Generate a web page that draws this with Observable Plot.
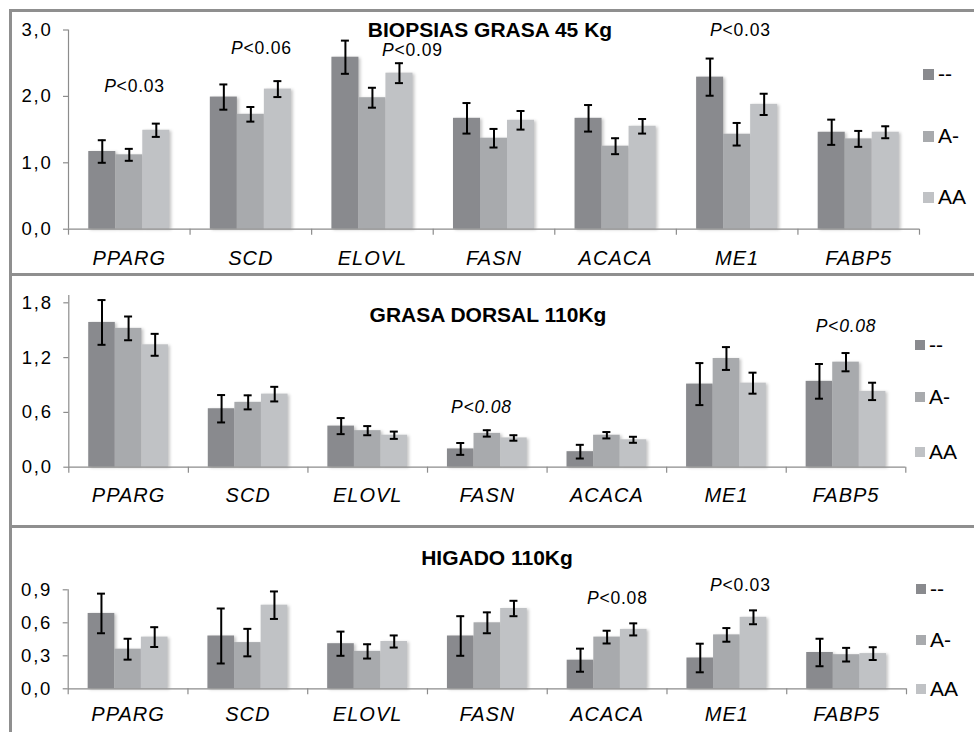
<!DOCTYPE html>
<html>
<head>
<meta charset="utf-8">
<script src="https://cdn.jsdelivr.net/npm/d3@7"></script>
<script src="https://cdn.jsdelivr.net/npm/@observablehq/plot@0.6"></script>
<style>
  body { margin: 0; background: #fff; font-family: "Liberation Sans", Arial, sans-serif; }
  #root { position: relative; width: 974px; height: 732px; overflow: hidden; background: #fff; }
  .panel { position: absolute; left: 0; }
  .panel svg { overflow: visible; }
  .hline { position: absolute; left: 9px; right: 0; height: 3px; background: #8f8f8f; }
  .vline { position: absolute; left: 9px; top: 9px; bottom: 0; width: 3px; background: #8f8f8f; }
  .title { position: absolute; font-weight: bold; font-size: 21px; line-height: 18px; transform: translateX(-50%); white-space: nowrap; color: #000; }
  .legitem { position: absolute; display: flex; align-items: center; height: 24px; font-size: 21px; color: #000; white-space: nowrap; }
  .sw { display: inline-block; margin-right: 4px; }
</style>
</head>
<body>
<div id="root"></div>
<script>
// ---------- data ----------
const genes = ["PPARG", "SCD", "ELOVL", "FASN", "ACACA", "ME1", "FABP5"];
const genotypes = ["--", "A-", "AA"];
const barColors = ["#898a8e", "#a8aaad", "#c0c2c5"];

// Panel 1: BIOPSIAS GRASA 45 Kg
const title1 = "BIOPSIAS GRASA 45 Kg";
const yTicks1 = [0, 1, 2, 3];
const mean1_mm = [1.17, 1.99, 2.59, 1.67, 1.67, 2.29, 1.46];
const mean1_am = [1.12, 1.73, 1.98, 1.37, 1.25, 1.43, 1.36];
const mean1_aa = [1.49, 2.11, 2.35, 1.64, 1.55, 1.88, 1.46];
const err1_mm = [0.17, 0.19, 0.25, 0.23, 0.20, 0.28, 0.19];
const err1_am = [0.09, 0.11, 0.15, 0.14, 0.12, 0.17, 0.12];
const err1_aa = [0.10, 0.12, 0.15, 0.14, 0.11, 0.16, 0.09];
const pText1 = ["P<0.03", "P<0.06", "P<0.09", "P<0.03"];
const pX1 = [0.543, 1.587, 2.829, 5.526];
const pY1 = [2.15, 2.72, 2.69, 2.99];

// Panel 2: GRASA DORSAL 110Kg
const title2 = "GRASA DORSAL 110Kg";
const yTicks2 = [0, 0.6, 1.2, 1.8];
const mean2_mm = [1.585, 0.64, 0.45, 0.20, 0.17, 0.91, 0.94];
const mean2_am = [1.52, 0.71, 0.40, 0.37, 0.35, 1.19, 1.15];
const mean2_aa = [1.34, 0.80, 0.35, 0.32, 0.30, 0.92, 0.83];
const err2_mm = [0.245, 0.15, 0.088, 0.065, 0.075, 0.23, 0.19];
const err2_am = [0.13, 0.077, 0.05, 0.035, 0.035, 0.125, 0.10];
const err2_aa = [0.12, 0.08, 0.04, 0.03, 0.033, 0.115, 0.095];
const pText2 = ["P<0.08", "P<0.08"];
const pX2 = [3.45, 6.5];
const pY2 = [0.66, 1.547];

// Panel 3: HIGADO 110Kg
const title3 = "HIGADO 110Kg";
const yTicks3 = [0, 0.3, 0.6, 0.9];
const mean3_mm = [0.685, 0.48, 0.41, 0.48, 0.26, 0.28, 0.33];
const mean3_am = [0.36, 0.42, 0.34, 0.60, 0.47, 0.49, 0.31];
const mean3_aa = [0.47, 0.76, 0.43, 0.73, 0.54, 0.65, 0.32];
const err3_mm = [0.18, 0.25, 0.11, 0.18, 0.105, 0.13, 0.125];
const err3_am = [0.095, 0.125, 0.065, 0.095, 0.058, 0.062, 0.062];
const err3_aa = [0.09, 0.125, 0.055, 0.07, 0.055, 0.063, 0.058];
const pText3 = ["P<0.08", "P<0.03"];
const pX3 = [4.585, 5.612];
const pY3 = [0.821, 0.944];

// ---------- drawing ----------
const GAP = 0.75;       // Excel gap width 150% -> half on each side (in bar units)
const SLOTS = 3 + 2 * GAP;
const FONT = "'Liberation Sans', Arial, sans-serif";
const root = document.getElementById("root");

function buildRows(means, errs) {
  const rows = [];
  genotypes.forEach((g, k) => genes.forEach((gene, i) => {
    rows.push({gene, i, k, genotype: g, mean: means[k][i], err: errs[k][i]});
  }));
  return rows;
}

function makePanel(cfg) {
  const rows = buildRows(cfg.means, cfg.errs);
  const center = d => d.i + (GAP + d.k + 0.5) / SLOTS;
  const annots = cfg.pText.map((t, j) => ({t, x: cfg.pX[j], y: cfg.pY[j]}));
  const fmt = d => d3.format(".1f")(d).replace(".", ",");
  const axisColor = "#8c8c8c";
  const svg = Plot.plot({
    width: 974,
    height: cfg.height,
    marginTop: cfg.mt, marginBottom: cfg.mb, marginLeft: cfg.ml, marginRight: cfg.mr,
    x: {domain: [0, genes.length], axis: null},
    y: {domain: [0, cfg.ymax], axis: null},
    color: {domain: genotypes, range: barColors},
    style: {fontFamily: FONT, background: "transparent", overflow: "visible"},
    marks: [
      Plot.rectY(rows, {
        x1: d => d.i + (GAP + d.k) / SLOTS,
        x2: d => d.i + (GAP + d.k + 1) / SLOTS,
        y: "mean", fill: "genotype"
      }),
      Plot.ruleY([0], {stroke: axisColor, strokeWidth: 1.2}),
      Plot.ruleX(d3.range(genes.length + 1), {x: d => d, y1: 0, y2: 0, insetBottom: -6, stroke: axisColor, strokeWidth: 1.2}),
      Plot.ruleX([0], {x: d => d, y1: 0, y2: cfg.ymax, stroke: axisColor, strokeWidth: 1.2}),
      Plot.ruleY(cfg.yTicks, {y: d => d, x1: 0, x2: 0, insetLeft: -5, stroke: axisColor, strokeWidth: 1.2}),
      Plot.text(cfg.yTicks, {x: 0, y: d => d, text: fmt, textAnchor: "end", dx: -16, fontSize: 18.5}),
      Plot.text(genes, {x: (d, i) => i + 0.5, y: 0, text: d => d, fontStyle: "italic", fontSize: 20, lineAnchor: "top", dy: cfg.xlabDy}),
      Plot.ruleX(rows, {x: center, y1: d => d.mean - d.err, y2: d => d.mean + d.err, stroke: "#000", strokeWidth: 2}),
      Plot.ruleY(rows, {x1: center, x2: center, y: d => d.mean + d.err, insetLeft: -4, insetRight: -4, stroke: "#000", strokeWidth: 2}),
      Plot.ruleY(rows, {x1: center, x2: center, y: d => d.mean - d.err, insetLeft: -4, insetRight: -4, stroke: "#000", strokeWidth: 2}),
      Plot.text(annots, {x: "x", y: "y", text: "t", fontSize: 17.5, lineAnchor: "middle", fontStyle: cfg.italicAll ? "italic" : "normal"})
    ]
  });

  // style tweaks: letter spacing, italic "P", soft bar shadow
  svg.querySelectorAll("text").forEach(t => {
    const s = t.textContent;
    if (/^\d,\d$/.test(s)) t.setAttribute("letter-spacing", "1.8");
    else if (genes.includes(s)) t.setAttribute("letter-spacing", "1");
    else if (/^P</.test(s)) {
      t.setAttribute("letter-spacing", "0.8");
      if (!cfg.italicAll) {
        t.textContent = "";
        const p = document.createElementNS("http://www.w3.org/2000/svg", "tspan");
        p.setAttribute("font-style", "italic");
        p.textContent = "P";
        t.appendChild(p);
        t.appendChild(document.createTextNode(s.slice(1)));
      }
    }
  });
  svg.querySelectorAll('g[aria-label="rect"]').forEach(g => {
    g.style.filter = "drop-shadow(2px 1px 1.5px rgba(0,0,0,0.22))";
  });

  const wrap = document.createElement("div");
  wrap.className = "panel";
  wrap.style.top = cfg.top + "px";
  wrap.appendChild(svg);
  root.appendChild(wrap);

  const tt = document.createElement("div");
  tt.className = "title";
  tt.textContent = cfg.title;
  tt.style.left = cfg.titleX + "px";
  tt.style.top = cfg.titleY + "px";
  root.appendChild(tt);

  genotypes.forEach((g, k) => {
    const it = document.createElement("div");
    it.className = "legitem";
    it.style.left = cfg.legX + "px";
    it.style.top = (cfg.legY[k] - 12) + "px";
    const sw = document.createElement("span");
    sw.className = "sw";
    sw.style.width = cfg.sw + "px";
    sw.style.height = cfg.sw + "px";
    sw.style.background = barColors[k];
    it.appendChild(sw);
    it.appendChild(document.createTextNode(g));
    root.appendChild(it);
  });
}

makePanel({
  top: 0, height: 273, mt: 29.5, mb: 44.3, ml: 68, mr: 55, ymax: 3, yTicks: yTicks1,
  means: [mean1_mm, mean1_am, mean1_aa], errs: [err1_mm, err1_am, err1_aa],
  pText: pText1, pX: pX1, pY: pY1, italicAll: false, xlabDy: 21.5,
  title: title1, titleX: 490, titleY: 20.5, legX: 923, legY: [74, 136, 197], sw: 11
});
makePanel({
  top: 273, height: 254, mt: 22, mb: 60.3, ml: 68.3, mr: 68.7, ymax: 1.88, yTicks: yTicks2,
  means: [mean2_mm, mean2_am, mean2_aa], errs: [err2_mm, err2_am, err2_aa],
  pText: pText2, pX: pX2, pY: pY2, italicAll: true, xlabDy: 20.5,
  title: title2, titleX: 488, titleY: 305.5, legX: 915, legY: [345, 397, 452], sw: 10
});
makePanel({
  top: 527, height: 205, mt: 62.3, mb: 43.7, ml: 67.7, mr: 68, ymax: 0.9, yTicks: yTicks3,
  means: [mean3_mm, mean3_am, mean3_aa], errs: [err3_mm, err3_am, err3_aa],
  pText: pText3, pX: pX3, pY: pY3, italicAll: false, xlabDy: 18,
  title: title3, titleX: 497, titleY: 548.5, legX: 916, legY: [589, 640, 689], sw: 10
});

// panel borders
[9, 272.5, 525].forEach(y => {
  const h = document.createElement("div");
  h.className = "hline";
  h.style.top = y + "px";
  root.appendChild(h);
});
const v = document.createElement("div");
v.className = "vline";
root.appendChild(v);
</script>
</body>
</html>
